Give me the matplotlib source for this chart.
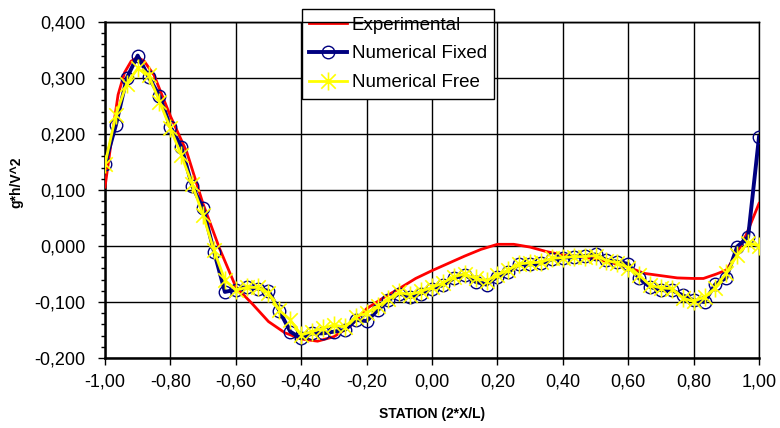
import matplotlib
matplotlib.use("Agg")
import matplotlib.pyplot as plt
import numpy as np
from matplotlib.lines import Line2D
from matplotlib.path import Path
from matplotlib.ticker import MultipleLocator, FuncFormatter

plt.rcParams.update({
    "font.family": ["Liberation Sans", "DejaVu Sans"],
    "font.size": 13,
})

# Experimental curve
EXP_X = [-1.00, -0.98, -0.96, -0.94, -0.92, -0.90, -0.88, -0.85, -0.80, -0.75,
         -0.70, -0.65, -0.60, -0.55, -0.50, -0.45, -0.40, -0.35, -0.30, -0.25,
         -0.20, -0.15, -0.10, -0.05, 0.00, 0.05, 0.10, 0.15, 0.20, 0.25,
         0.30, 0.35, 0.40, 0.45, 0.50, 0.55, 0.60, 0.65, 0.70, 0.75,
         0.80, 0.83, 0.87, 0.90, 0.93, 0.96, 1.00]
EXP_Y = [0.105, 0.190, 0.270, 0.310, 0.330, 0.337, 0.330, 0.305, 0.232, 0.168,
         0.075, -0.004, -0.073, -0.103, -0.135, -0.155, -0.166, -0.170, -0.162, -0.143,
         -0.112, -0.093, -0.076, -0.058, -0.044, -0.031, -0.018, -0.006, 0.003, 0.003,
         -0.002, -0.010, -0.016, -0.019, -0.023, -0.030, -0.038, -0.049, -0.053, -0.057,
         -0.058, -0.058, -0.050, -0.043, -0.016, 0.019, 0.076]

# Numerical stations (step 1/30)
NUM_X = [-1 + k / 30 for k in range(61)]
FIXED_Y = [0.146, 0.216, 0.300, 0.340, 0.302, 0.268, 0.213, 0.177, 0.107, 0.067,
           -0.010, -0.082, -0.078, -0.073, -0.076, -0.080, -0.116, -0.153, -0.165, -0.156,
           -0.156, -0.153, -0.150, -0.132, -0.134, -0.115, -0.097, -0.085, -0.091, -0.085,
           -0.076, -0.070, -0.058, -0.051, -0.064, -0.069, -0.055, -0.047, -0.033, -0.033,
           -0.031, -0.024, -0.021, -0.019, -0.018, -0.015, -0.025, -0.028, -0.032, -0.058,
           -0.073, -0.079, -0.079, -0.088, -0.097, -0.100, -0.068, -0.057, -0.001, 0.016,
           0.195]
FREE_Y = [0.146, 0.234, 0.290, 0.317, 0.305, 0.258, 0.210, 0.162, 0.110, 0.055,
          -0.008, -0.061, -0.079, -0.074, -0.074, -0.084, -0.115, -0.132, -0.159, -0.153,
          -0.147, -0.141, -0.145, -0.126, -0.120, -0.108, -0.095, -0.083, -0.087, -0.081,
          -0.074, -0.066, -0.055, -0.050, -0.058, -0.062, -0.052, -0.043, -0.032, -0.030,
          -0.029, -0.022, -0.021, -0.019, -0.019, -0.017, -0.026, -0.030, -0.039, -0.052,
          -0.070, -0.075, -0.076, -0.093, -0.099, -0.091, -0.075, -0.048, -0.016, 0.006,
          0.000]

# Excel-style star: an X with a vertical bar through it
STAR = Path([(0, -1), (0, 1), (-0.8, -0.8), (0.8, 0.8), (-0.8, 0.8), (0.8, -0.8)],
            [Path.MOVETO, Path.LINETO] * 3)

fig = plt.figure(figsize=(7.8, 4.28), dpi=100)
ax = fig.add_axes([0.1346, 0.1636, 0.8385, 0.785])

ax.plot(EXP_X, EXP_Y, color="#ff0000", linewidth=2, label="Experimental", zorder=3)
ax.plot(NUM_X, FIXED_Y, color="#000080", linewidth=2.8, marker="o", markersize=9,
        markerfacecolor="none", markeredgecolor="#000080", markeredgewidth=1,
        label="Numerical Fixed", zorder=4)
ax.plot(NUM_X, FREE_Y, color="#ffff00", linewidth=2, marker=STAR, markersize=13,
        markeredgecolor="#ffff00", markeredgewidth=1.2,
        label="Numerical Free", zorder=5)

ax.set_xlim(-1.0, 1.0)
ax.set_ylim(-0.2, 0.4)
ax.xaxis.set_major_locator(MultipleLocator(0.2))
ax.yaxis.set_major_locator(MultipleLocator(0.1))
ax.yaxis.set_minor_locator(MultipleLocator(0.02))
ax.xaxis.set_major_formatter(FuncFormatter(lambda v, p: f"{v:.2f}".replace(".", ",").replace("-0,00", "0,00")))
ax.yaxis.set_major_formatter(FuncFormatter(lambda v, p: f"{v:.3f}".replace(".", ",").replace("-0,000", "0,000")))
ax.tick_params(axis="both", which="major", direction="out", length=5, width=1, colors="black", labelsize=13)
ax.tick_params(axis="y", which="minor", direction="out", length=3, width=1)
ax.tick_params(axis="x", pad=6)
ax.tick_params(axis="y", pad=9)

ax.grid(True, which="major", color="black", linewidth=1)
for side in ["top", "right"]:
    ax.spines[side].set_linewidth(1)
for side in ["left", "bottom"]:
    ax.spines[side].set_linewidth(1.8)

ax.set_xlabel("STATION (2*X/L)", fontsize=10, fontweight="bold")
ax.xaxis.set_label_coords(0.5, -0.145)
ax.set_ylabel("g*h/V^2", fontsize=10, fontweight="bold")
ax.yaxis.set_label_coords(-0.125, 0.524)

leg = fig.legend(loc="upper left", bbox_to_anchor=(0.387, 0.979), frameon=True,
                 fancybox=False, edgecolor="black", framealpha=1, fontsize=13.5,
                 handlelength=2.0, borderpad=0.4, labelspacing=0.62, handletextpad=0.25,
                 borderaxespad=0)
leg.get_frame().set_linewidth(1)

# in the original the top frame line runs over the legend box
pos = ax.get_position()
fig.add_artist(Line2D([pos.x0, pos.x1], [pos.y1, pos.y1], transform=fig.transFigure,
                      color="black", linewidth=1, zorder=10))

fig.savefig("out.png", dpi=100)
